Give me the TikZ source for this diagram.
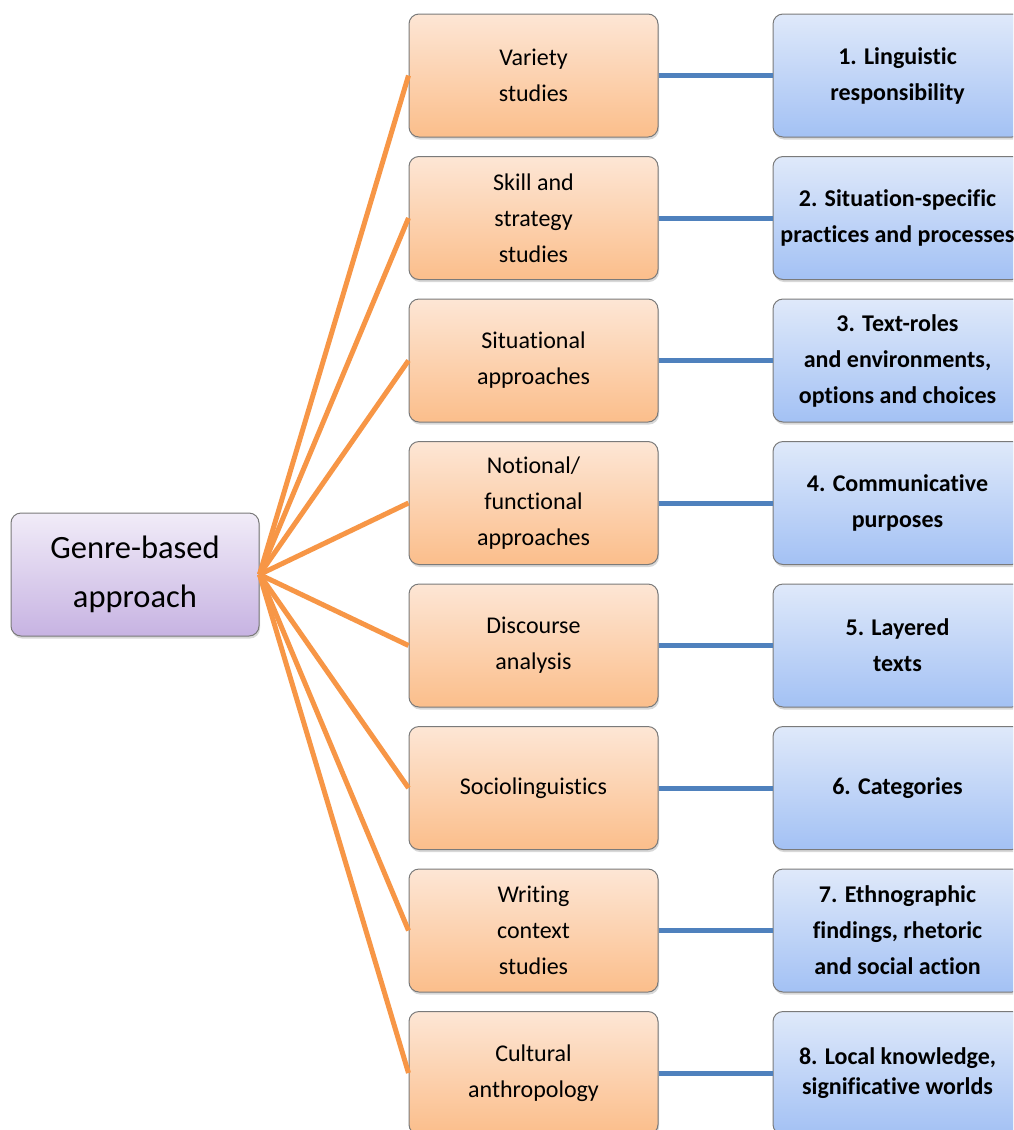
\documentclass[tikz,border=0pt]{standalone}
\usepackage{fontspec}
\setmainfont{Carlito}[Ligatures=NoCommon]
\usetikzlibrary{shadows}
\definecolor{oline}{HTML}{F79646}
\definecolor{bline}{HTML}{4F81BD}
\definecolor{otop}{HTML}{FDE6D5}
\definecolor{obot}{HTML}{FBBE8B}
\definecolor{btop}{HTML}{DFE9FA}
\definecolor{bbot}{HTML}{A3C1F4}
\definecolor{ptop}{HTML}{F1ECF8}
\definecolor{pbot}{HTML}{C7B3E2}
\definecolor{edge}{HTML}{7A7A7A}
\begin{document}
\begin{tikzpicture}[x=1pt,y=-1pt,
  card/.style={rounded corners=10pt, draw=edge, line width=1pt,
    minimum width=249pt, minimum height=123pt, align=center, inner sep=0pt,
    drop shadow={shadow xshift=1pt, shadow yshift=-2.5pt, opacity=0.3}},
  topic/.style={card, top color=otop, bottom color=obot,
    font=\fontsize{24}{36}\selectfont},
  aspect/.style={card, top color=btop, bottom color=bbot,
    font=\fontsize{24}{36}\selectfont\bfseries},
  root/.style={card, minimum width=248pt, top color=ptop, bottom color=pbot,
    font=\fontsize{32.5}{49}\selectfont},
  branch/.style={draw=oline, line width=5pt},
  link/.style={draw=bline, line width=5pt}]
\clip (0,0) rectangle (1013,1130);
\fill[white] (0,0) rectangle (1013,1130);

% central concept
\node[root] (g) at (135,574.5) {Genre-based\\approach};

% research traditions
\node[topic] (o1) at (533.5,75.5)   {Variety\\studies};
\node[topic] (o2) at (533.5,218)    {Skill and\\strategy\\studies};
\node[topic] (o3) at (533.5,360.5)  {Situational\\approaches};
\node[topic] (o4) at (533.5,503)    {Notional/\\functional\\approaches};
\node[topic] (o5) at (533.5,645.5)  {Discourse\\analysis};
\node[topic] (o6) at (533.5,788)    {Sociolinguistics};
\node[topic] (o7) at (533.5,930.5)  {Writing\\context\\studies};
\node[topic] (o8) at (533.5,1073)   {Cultural\\anthropology};

% contributions
\node[aspect] (b1) at (897.5,75.5)  {1. Linguistic\\responsibility};
\node[aspect] (b2) at (897.5,218)   {2. Situation-specific\\practices and processes};
\node[aspect] (b3) at (897.5,360.5) {3. Text-roles\\and environments,\\options and choices};
\node[aspect] (b4) at (897.5,503)   {4. Communicative\\purposes};
\node[aspect] (b5) at (897.5,645.5) {5. Layered\\texts};
\node[aspect] (b6) at (897.5,788)   {6. Categories};
\node[aspect] (b7) at (897.5,930.5) {7. Ethnographic\\findings, rhetoric\\and social action};
\node[aspect] (b8) at (897.5,1073)  {8. Local knowledge,\\[-6pt]significative worlds};

% connectors
\foreach \i in {1,...,8}{
  \draw[branch] (g.east) -- (o\i.west);
  \draw[link] (o\i.east) -- (b\i.west);
}
\end{tikzpicture}
\end{document}
